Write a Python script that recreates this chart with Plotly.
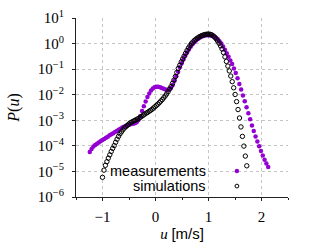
import plotly.graph_objects as go

# ---- data ----
u_sim = [-1.000, -0.9725, -0.945, -0.9175, -0.890, -0.8625, -0.835, -0.8075, -0.780, -0.7525,
         -0.725, -0.6975, -0.670, -0.6425, -0.615, -0.5875, -0.560, -0.5325, -0.505, -0.4775,
         -0.450, -0.4225, -0.395, -0.3675, -0.340, -0.3125, -0.285, -0.2575, -0.230, -0.2025,
         -0.175, -0.1475, -0.120, -0.0925, -0.065, -0.0375, -0.010, 0.0175, 0.045, 0.0725,
         0.100, 0.1275, 0.155, 0.1825, 0.210, 0.2375, 0.265, 0.2925, 0.320, 0.3475,
         0.375, 0.4025, 0.430, 0.4575, 0.485, 0.5125, 0.540, 0.5675, 0.595, 0.6225,
         0.650, 0.6775, 0.705, 0.7325, 0.760, 0.7875, 0.815, 0.8425, 0.870, 0.8975,
         0.925, 0.9525, 0.980, 1.0075, 1.035, 1.0625, 1.090, 1.1175, 1.145, 1.1725,
         1.200, 1.2275, 1.255, 1.2825, 1.310, 1.3375, 1.365, 1.3925, 1.420, 1.4475,
         1.475, 1.5025, 1.530, 1.5575, 1.585, 1.6125, 1.640, 1.6675, 1.695, 1.7225]
log10_p_sim = [-5.23, -4.95, -4.76, -4.62, -4.48, -4.35, -4.22, -4.10, -3.99, -3.86,
               -3.74, -3.63, -3.53, -3.45, -3.37, -3.30, -3.25, -3.20, -3.15, -3.10,
               -3.07, -3.04, -3.01, -2.98, -2.95, -2.92, -2.88, -2.84, -2.80, -2.76,
               -2.72, -2.69, -2.65, -2.61, -2.57, -2.52, -2.47, -2.42, -2.37, -2.31,
               -2.25, -2.19, -2.12, -2.05, -1.97, -1.88, -1.78, -1.68, -1.56, -1.43,
               -1.29, -1.13, -0.97, -0.85, -0.72, -0.60, -0.49, -0.38, -0.27, -0.17,
               -0.08, 0.00, 0.06, 0.12, 0.17, 0.21, 0.25, 0.28, 0.31, 0.33,
               0.35, 0.36, 0.37, 0.37, 0.36, 0.34, 0.30, 0.25, 0.18, 0.10,
               0.01, -0.09, -0.21, -0.35, -0.52, -0.70, -0.88, -1.07, -1.27, -1.49,
               -1.73, -1.99, -2.27, -2.58, -2.91, -3.26, -3.63, -4.01, -4.40, -4.78]

u_meas = [-1.240, -1.206, -1.172, -1.138, -1.104, -1.070, -1.036, -1.002, -0.968, -0.934,
          -0.900, -0.866, -0.832, -0.798, -0.764, -0.730, -0.696, -0.662, -0.628, -0.594,
          -0.560, -0.526, -0.492, -0.458, -0.424, -0.390, -0.356, -0.322, -0.288, -0.254,
          -0.220, -0.186, -0.152, -0.118, -0.084, -0.050, -0.016, 0.018, 0.052, 0.086,
          0.120, 0.154, 0.188, 0.222, 0.256, 0.290, 0.324, 0.358, 0.392, 0.426,
          0.460, 0.494, 0.528, 0.562, 0.596, 0.630, 0.664, 0.698, 0.732, 0.766,
          0.800, 0.834, 0.868, 0.902, 0.936, 0.970, 1.004, 1.038, 1.072, 1.106,
          1.140, 1.174, 1.208, 1.242, 1.276, 1.310, 1.344, 1.378, 1.412, 1.446,
          1.480, 1.514, 1.548, 1.582, 1.616, 1.650, 1.684, 1.718, 1.752, 1.786,
          1.820, 1.854, 1.888, 1.922, 1.956, 1.990, 2.024, 2.058, 2.092, 2.126]
log10_p_meas = [-4.24, -4.12, -4.03, -3.97, -3.92, -3.87, -3.82, -3.77, -3.73, -3.68,
                -3.64, -3.59, -3.55, -3.51, -3.46, -3.42, -3.37, -3.33, -3.28, -3.25,
                -3.22, -3.19, -3.17, -3.15, -3.14, -3.12, -3.08, -2.99, -2.84, -2.64,
                -2.45, -2.27, -2.09, -1.95, -1.84, -1.76, -1.71, -1.69, -1.69, -1.71,
                -1.74, -1.77, -1.80, -1.82, -1.80, -1.74, -1.62, -1.45, -1.28, -1.10,
                -0.93, -0.77, -0.62, -0.48, -0.35, -0.23, -0.12, -0.03, 0.05, 0.12,
                0.18, 0.23, 0.27, 0.30, 0.32, 0.33, 0.33, 0.32, 0.30, 0.27,
                0.23, 0.17, 0.09, 0.00, -0.11, -0.24, -0.38, -0.52, -0.66, -0.80,
                -0.97, -1.15, -1.36, -1.58, -1.80, -2.03, -2.26, -2.49, -2.72, -2.96,
                -3.20, -3.42, -3.63, -3.83, -4.02, -4.20, -4.38, -4.54, -4.69, -4.83]

x_tick_vals = [-1, 0, 1, 2]
x_tick_text = ["\u22121", "0", "1", "2"]
y_exponents = [-6, -5, -4, -3, -2, -1, 0, 1]
y_tick_text = ["10<sup>%s</sup>" % (str(e).replace("-", "\u2212")) for e in y_exponents]
y_tick_vals = [10.0 ** e for e in y_exponents]

p_sim = [10.0 ** v for v in log10_p_sim]
p_meas = [10.0 ** v for v in log10_p_meas]

PURPLE = "#9400d3"
SERIF = "Liberation Serif, DejaVu Serif, serif"
SANS = "Liberation Sans, Arial, sans-serif"

fig = go.Figure()
fig.add_trace(go.Scatter(
    x=u_meas, y=p_meas, mode="markers", name="measurements",
    marker=dict(symbol="circle", size=4.5, color=PURPLE, line=dict(width=0)),
))
fig.add_trace(go.Scatter(
    x=u_sim, y=p_sim, mode="markers", name="simulations",
    marker=dict(symbol="circle-open", size=4.4, color="black", line=dict(width=1, color="black")),
))

axis_common = dict(
    showline=True, linecolor="#222222", linewidth=1.2,
    ticks="outside", ticklen=3, tickwidth=1, tickcolor="#222222",
    showgrid=True, gridcolor="#c4c4c4", gridwidth=1, griddash="dot",
    zeroline=False, mirror=False, automargin=False,
    tickfont=dict(family=SERIF, size=15, color="black"),
)

fig.update_xaxes(
    range=[-1.5, 2.5], tickmode="array", tickvals=x_tick_vals, ticktext=x_tick_text,
    minor=dict(dtick=0.5, tick0=0, ticks="outside", ticklen=2, tickcolor="#222222", showgrid=False),
    ticklabelstandoff=3,
    title=dict(text="<i>u</i> <span style='font-family:Liberation Sans'>[m/s]</span>",
               font=dict(family=SERIF, size=15, color="black"), standoff=4),
    **axis_common,
)
fig.update_yaxes(
    type="log", range=[-6, 1], tickmode="array", tickvals=y_tick_vals, ticktext=y_tick_text,
    ticklabelstandoff=5,
    title=dict(text="<i>P</i>(<i>u</i>)", font=dict(family=SERIF, size=16, color="black"), standoff=14),
    **axis_common,
)

# legend drawn gnuplot-style: right-aligned text with key symbol on the right
legend_font = dict(family=SANS, size=14.5, color="black")
fig.add_annotation(text="measurements", xref="paper", yref="paper", x=0.622, y=0.145,
                   xanchor="right", yanchor="middle", showarrow=False, font=legend_font)
fig.add_annotation(text="simulations", xref="paper", yref="paper", x=0.622, y=0.061,
                   xanchor="right", yanchor="middle", showarrow=False, font=legend_font)
fig.add_shape(type="circle", xref="paper", yref="paper", xsizemode="pixel", ysizemode="pixel",
              xanchor=0.759, yanchor=0.145, x0=-2.2, x1=2.2, y0=-2.2, y1=2.2,
              fillcolor=PURPLE, line=dict(width=0))
fig.add_shape(type="circle", xref="paper", yref="paper", xsizemode="pixel", ysizemode="pixel",
              xanchor=0.759, yanchor=0.061, x0=-1.9, x1=1.9, y0=-1.9, y1=1.9,
              fillcolor="rgba(0,0,0,0)", line=dict(width=1, color="black"))

fig.update_layout(
    width=316, height=249, autosize=False,
    margin=dict(l=76, r=28, t=18, b=52),
    paper_bgcolor="white", plot_bgcolor="white",
    showlegend=False,
)

fig.write_html("out.html", config={"displayModeBar": False},
               post_script="document.body.style.margin='0';document.body.style.overflow='hidden';")
